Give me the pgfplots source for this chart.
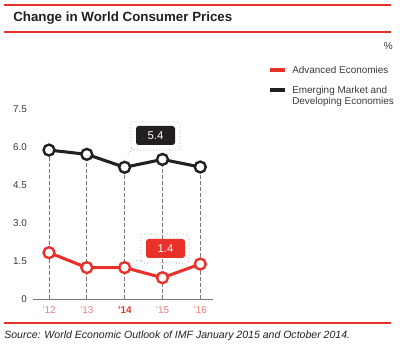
\documentclass[border=0pt]{standalone}
\usepackage{pgfplots}
\pgfplotsset{compat=1.18}
\usepackage{fontspec}
\setmainfont{Liberation Sans}
\definecolor{cred}{HTML}{E8312A}
\definecolor{cblk}{HTML}{231F20}
\definecolor{cpink}{HTML}{F07A78}
\definecolor{cgray}{HTML}{777777}
\definecolor{ctick}{HTML}{3A3A3A}
\begin{document}
\begin{tikzpicture}[x=0.75pt,y=0.75pt]
\useasboundingbox (0,0) rectangle (400,350);
% header
\draw[cred,line width=0.9pt] (4,345) -- (391,345);
\node[anchor=west,font=\fontsize{10}{12}\selectfont\bfseries,text=cblk,inner sep=0] at (13,332) {Change in World Consumer Prices};
\draw[cred,line width=0.9pt] (4,318) -- (391,318);
\node[anchor=east,font=\fontsize{7.5}{9}\selectfont,text=ctick,inner sep=0] at (393,304) {\%};
% legend
\draw[cred,line width=2.6pt] (270,280) -- (285,280);
\node[anchor=west,font=\fontsize{7.45}{8.4}\selectfont,text=ctick,inner sep=0] at (292,280) {Advanced Economies};
\draw[cblk,line width=2.6pt] (270,260) -- (285,260);
\node[anchor=north west,align=left,font=\fontsize{7.45}{8.4}\selectfont,text=ctick,inner sep=0] at (292,264) {Emerging Market and\\Developing Economies};
\begin{axis}[
  at={(24.75pt,38.25pt)}, anchor=south west,
  scale only axis, width=135pt, height=142.5pt,
  xmin=-0.423, xmax=4.336, ymin=0, ymax=7.5,
  clip=false,
  axis lines=left, axis line style={-},
  x axis line style={draw=cgray, line width=0.6pt},
  y axis line style={draw=none},
  major tick length=0pt,
  xtick={0,1,2,3,4},
  xticklabels={{\color{cpink}’12},{\color{cpink}’13},{\color{cred}\bfseries ’14},{\color{cpink}’15},{\color{cpink}’16}},
  ytick={0,1.5,3,4.5,6,7.5},
  yticklabels={0,1.5,3.0,4.5,6.0,7.5},
  tick label style={font=\fontsize{7.4}{8.4}\selectfont},
  yticklabel style={text=ctick, xshift=-1pt},
  xticklabel style={yshift=-2pt},
]
\addplot[ycomb, draw=cgray, line width=0.5pt, dash pattern=on 3pt off 1.5pt, no markers] coordinates {(0,5.88) (1,5.71) (2,5.2) (3,5.51) (4,5.21)};
\addplot[cblk, line width=2.3pt, mark=*, mark size=4.1pt, mark options={fill=white, draw=cblk, line width=1.8pt}] coordinates {(0,5.88) (1,5.71) (2,5.2) (3,5.51) (4,5.21)};
\addplot[cred, line width=2.3pt, mark=*, mark size=4.1pt, mark options={fill=white, draw=cred, line width=1.8pt}] coordinates {(0,1.83) (1,1.24) (2,1.24) (3,0.84) (4,1.38)};
\end{axis}
% callouts
\draw[cgray, line width=0.4pt, dotted, rounded corners=2pt] (131,200) rectangle (180,228);
\draw[cgray, line width=0.4pt, dotted] (133,201) -- (125,193);
\fill[cblk, rounded corners=2pt] (136,205) rectangle (175,224);
\node[text=white, font=\fontsize{8.5}{10}\selectfont] at (155.5,214.5) {5.4};
\draw[cgray, line width=0.4pt, dotted, rounded corners=2pt] (141,87) rectangle (189,116);
\draw[cgray, line width=0.4pt, dotted] (143,89) -- (129,90);
\fill[cred, rounded corners=2pt] (146,92) rectangle (185,111);
\node[text=white, font=\fontsize{8.5}{10}\selectfont] at (165.5,101.5) {1.4};
% footer
\draw[cred,line width=0.9pt] (4,27) -- (391,27);
\node[anchor=west,font=\fontsize{7.9}{9}\selectfont\itshape,text=cblk,inner sep=0] at (4,14) {Source: World Economic Outlook of IMF January 2015 and October 2014.};
\end{tikzpicture}
\end{document}
